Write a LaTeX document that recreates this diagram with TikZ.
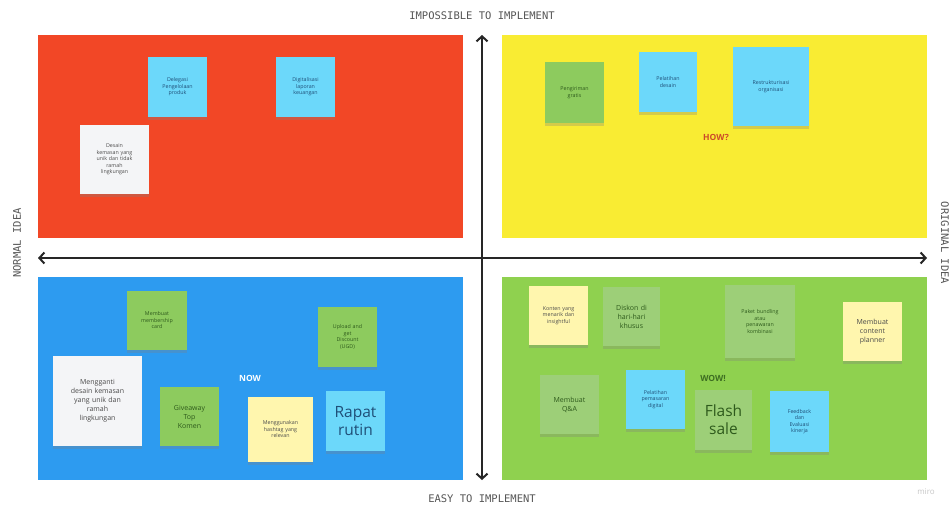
\documentclass[tikz,border=0pt]{standalone}
\usepackage{fontspec}
\setmainfont{Open Sans}
\newfontfamily\axisfont{DejaVu Sans Mono}
\usetikzlibrary{arrows.meta,shadows}

\definecolor{quadred}{HTML}{F24726}
\definecolor{quadyellow}{HTML}{F9EC33}
\definecolor{quadblue}{HTML}{2D9BF0}
\definecolor{quadgreen}{HTML}{8FD14F}
\definecolor{stickyblue}{HTML}{6CD8FA}
\definecolor{stickygreen}{HTML}{8DCB5E}
\definecolor{stickysage}{HTML}{9DCF78}
\definecolor{stickycream}{HTML}{FFF6AE}
\definecolor{stickywhite}{HTML}{F4F5F7}
\definecolor{axisgrey}{HTML}{555555}
\definecolor{howred}{HTML}{CC4A2A}
\definecolor{wowgreen}{HTML}{3E6E22}
\definecolor{inkblue}{HTML}{1F4F78}
\definecolor{inkgreen}{HTML}{2E5A1C}
\definecolor{inkgrey}{HTML}{4A4A4A}

\tikzset{
  quadrant/.style={rectangle, inner sep=0pt, minimum width=425pt, minimum height=203pt},
  sticky/.style={rectangle, inner sep=0pt, align=center,
    font=\fontsize{5.3}{6.5}\selectfont,
    drop shadow={shadow xshift=0pt, shadow yshift=-2.5pt, opacity=0.3}},
  notesize/.style 2 args={minimum width=#1pt, minimum height=#2pt, text width=#1pt-8pt},
  bluenote/.style={sticky, fill=stickyblue, text=inkblue},
  greennote/.style={sticky, fill=stickygreen, text=inkgreen},
  sagenote/.style={sticky, fill=stickysage, text=inkgreen},
  creamnote/.style={sticky, fill=stickycream, text=inkgrey},
  whitenote/.style={sticky, fill=stickywhite, text=inkgrey},
  bignote/.style={font=\fontsize{15.5}{18}\selectfont},
  midnote/.style={font=\fontsize{7}{9}\selectfont},
  axislabel/.style={font=\axisfont\fontsize{10.5}{12}\selectfont, text=axisgrey},
  axisline/.style={line width=2pt, black!85, {Straight Barb[length=5pt,width=11pt,line width=2pt]}-{Straight Barb[length=5pt,width=11pt,line width=2pt]}},
  tag/.style={font=\bfseries\fontsize{8.5}{10}\selectfont}
}

\begin{document}
\begin{tikzpicture}[x=1pt,y=-1pt]
\useasboundingbox[fill=white] (0,0) rectangle (951,506);

% four quadrants
\node[quadrant, fill=quadred]    (tl) at (250.5,136.5) {};
\node[quadrant, fill=quadyellow] (tr) at (714.5,136.5) {};
\node[quadrant, fill=quadblue]   (bl) at (250.5,378.5) {};
\node[quadrant, fill=quadgreen]  (br) at (714.5,378.5) {};

% axes
\coordinate (vtop) at (482,35);
\coordinate (vbot) at (482,480);
\coordinate (hleft) at (38,258);
\coordinate (hright) at (927,258);
\draw[axisline] (vbot) -- (vtop);
\draw[axisline] (hleft) -- (hright);

\node[axislabel] (ltop) at (482,16) {IMPOSSIBLE TO IMPLEMENT};
\node[axislabel] (lbot) at (482,499) {EASY TO IMPLEMENT};
\node[axislabel, rotate=90] (lleft) at (17,243) {NORMAL IDEA};
\node[axislabel, rotate=-90] (lright) at (945,243) {ORIGINAL IDEA};

% impossible, normal
\node[bluenote, notesize={59}{60}] (delegasi) at (177.5,87) {Delegasi\\Pengelolaan\\produk};
\node[bluenote, notesize={59}{60}] (digital) at (305.5,87) {Digitalisasi\\laporan\\keuangan};
\node[whitenote, notesize={69}{69}] (desain) at (114.5,159.5) {Desain\\kemasan yang\\unik dan tidak\\ramah\\lingkungan};

% impossible, original
\node[greennote, notesize={59}{61}] (kirim) at (574.5,92.5) {Pengiriman\\gratis};
\node[bluenote, notesize={58}{60}] (latihdesain) at (668,82) {Pelatihan\\desain};
\node[bluenote, notesize={76}{79}] (struktur) at (771,86.5) {Restrukturisasi\\organisasi};
\node[tag, text=howred] (how) at (716,137) {HOW?};

% easy, normal
\node[greennote, notesize={60}{59}] (member) at (157,320.5) {Membuat\\membership\\card};
\node[whitenote, notesize={89}{90}, midnote] (ganti) at (97.5,401) {Mengganti\\desain kemasan\\yang unik dan\\ramah\\lingkungan};
\node[greennote, notesize={59}{59}, midnote] (giveaway) at (189.5,416.5) {Giveaway\\Top\\Komen};
\node[greennote, notesize={59}{60}] (upload) at (347.5,337) {Upload and\\get\\Discount\\(UGD)};
\node[tag, text=white] (now) at (250,378) {NOW};
\node[creamnote, notesize={65}{65}] (hashtag) at (280.5,429.5) {Menggunakan\\hashtag yang\\relevan};
\node[bluenote, notesize={59}{60}, bignote] (rapat) at (355.5,421) {Rapat\\rutin};

% easy, original
\node[creamnote, notesize={59}{59}] (konten) at (558.5,315.5) {Konten yang\\menarik dan\\insightful};
\node[sagenote, notesize={57}{59}, midnote] (diskon) at (631.5,316.5) {Diskon di\\hari-hari\\khusus};
\node[sagenote, notesize={70}{73}] (bundling) at (760,321.5) {Paket bundling\\atau\\penawaran\\kombinasi};
\node[creamnote, notesize={59}{59}, midnote] (planner) at (872.5,331.5) {Membuat\\content\\planner};
\node[tag, text=wowgreen] (wow) at (713,378) {WOW!};
\node[sagenote, notesize={59}{59}, midnote] (qa) at (569.5,404.5) {Membuat\\Q\&A};
\node[bluenote, notesize={59}{59}] (pemasaran) at (655.5,399.5) {Pelatihan\\pemasaran\\digital};
\node[sagenote, notesize={57}{60}, bignote] (flash) at (723.5,420) {Flash\\sale};
\node[bluenote, notesize={59}{61}] (feedback) at (799.5,421.5) {Feedback\\dan\\Evaluasi\\kinerja};

% board watermark
\node[font=\fontsize{8}{9}\selectfont, text=black!22] (miro) at (926,492) {miro};
\end{tikzpicture}
\end{document}
